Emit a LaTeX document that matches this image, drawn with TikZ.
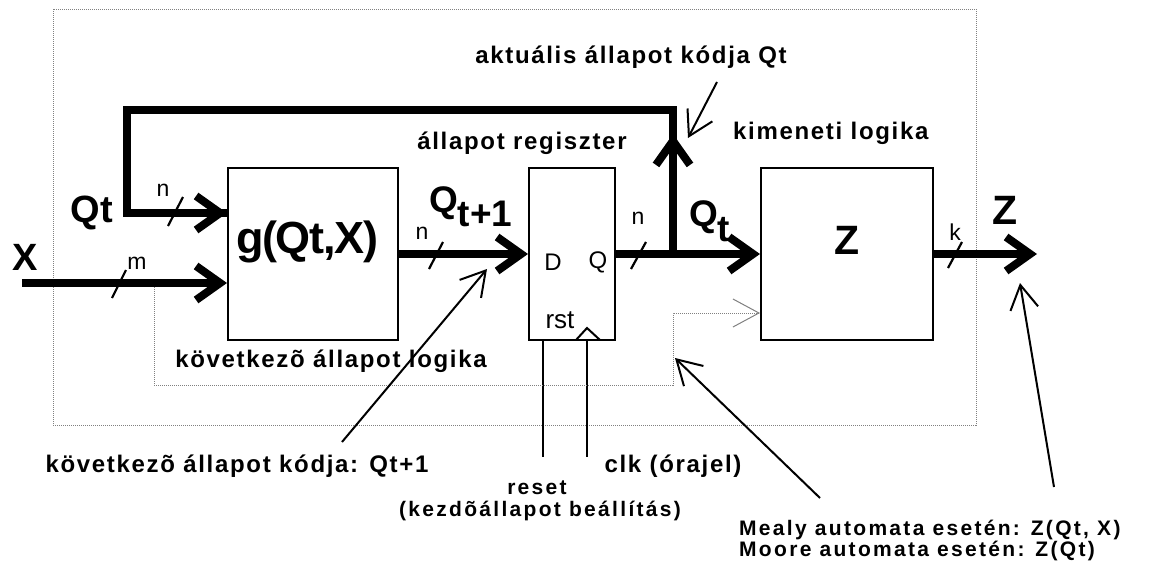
\documentclass[tikz,border=0pt]{standalone}
\usepackage{fontspec}
\setmainfont{Liberation Sans}
\newfontfamily\lblf{Liberation Sans}[LetterSpace=7]
\newfontfamily\lblg{Liberation Sans}[LetterSpace=11]
\newfontfamily\bgf{Liberation Sans}[LetterSpace=-3]
\usetikzlibrary{arrows.meta}
\begin{document}
\begin{tikzpicture}[x=1pt,y=-1pt]
\tikzset{
  bus/.style={line width=8pt},
  busarrow/.style={bus,-{Straight Barb[length=24pt,width=34pt]}},
  slash/.style={line width=2.2pt},
  thinarrow/.style={line width=2pt,-{Straight Barb[length=24pt,width=28pt]}},
  dotline/.style={gray,densely dotted,line width=1pt},
  box/.style={draw,line width=2pt,inner sep=0},
  lbl/.style={inner sep=0,font=\lblf\bfseries\fontsize{24}{26}\selectfont},
  lblsm/.style={inner sep=0,font=\lblg\bfseries\fontsize{21}{23}\selectfont},
  big/.style={inner sep=0,font=\bgf\bfseries\fontsize{40}{44}\selectfont},
  small/.style={inner sep=0,font=\fontsize{23}{26}\selectfont},
}
\useasboundingbox (0,0) rectangle (1152,562);
% frame
\draw[dotline] (53,9) rectangle (976,425);
% boxes
\node[box,minimum width=170pt,minimum height=172pt] (g) at (313,254) {};
\node[box,minimum width=86pt,minimum height=172pt] (reg) at (572,254) {};
\node[box,minimum width=172pt,minimum height=172pt] (zb) at (847,254) {};
\node[big,font=\bgf\bfseries\fontsize{45}{48}\selectfont] (gt) at (307,242) {g(Qt,X)};
\node[big,font=\bfseries\fontsize{41}{44}\selectfont] (zt) at (847,240) {Z};
% register internals
\node[small,font=\fontsize{24}{26}\selectfont] (dl) at (553,262) {D};
\node[small,font=\fontsize{24}{26}\selectfont] (ql) at (598,262) {Q};
\node[small,font=\fontsize{26}{28}\selectfont] (rl) at (560,320) {rst};
\draw[line width=2pt] (576,340) -- (587,328) -- (600,340);
\coordinate (rstend) at (543,457);
\coordinate (clkend) at (587,457);
\draw[line width=2pt] (543,340) -- (rstend);
\draw[line width=2pt] (587,340) -- (clkend);
% coordinates
\coordinate (xin) at (22,283);
\coordinate (br) at (673,254);
\coordinate (upt) at (673,134);
\coordinate (fbtop) at (673,110);
\coordinate (fbl) at (127,110);
\coordinate (qin) at (127,213);
\coordinate (zout) at (1037,254);
% dotted Mealy path
\coordinate (dst) at (154,283);
\draw[dotline,-{Straight Barb[length=26pt,width=28pt]}] (dst) -- (154,385) -- (673,385) -- (673,313) -- (zb.west |- 0,313);
% buses
\draw[busarrow] (xin) -- (g.west |- xin);
\draw[busarrow] (g.east) -- (reg.west);
\draw[busarrow] (reg.east) -- (zb.west);
\draw[busarrow] (zb.east) -- (zout);
\draw[busarrow] (br) -- (upt);
\draw[bus] (673,150) -- (fbtop) -- (fbl) -- (qin) -- (g.west |- qin);
\draw[busarrow] (fbl |- qin) -- (g.west |- qin);
% slashes
\draw[slash] (168,226) -- (183,197);
\draw[slash] (112,298) -- (126,270);
\draw[slash] (429,269) -- (443,242);
\draw[slash] (631,269) -- (646,242);
\draw[slash] (948,268) -- (962,242);
\node[small] (n1) at (163,190) {n};
\node[small] (m1) at (137,263) {m};
\node[small] (n2) at (422,233) {n};
\node[small] (n3) at (638,218) {n};
\node[small] (k1) at (955,232) {k};
% big labels
\node[big,font=\bfseries\fontsize{38}{40}\selectfont] (qtl) at (92,213) {Qt};
\node[big,font=\bfseries\fontsize{38}{40}\selectfont] (xl) at (25,257) {X};
\node[big,font=\bfseries\fontsize{41}{44}\selectfont] (zl) at (1005,210) {Z};
\node[big,font=\bfseries\fontsize{37}{40}\selectfont,anchor=base west] (q1l) at (429,212) {Q\raisebox{-14pt}{t+1}};
\node[big,font=\bfseries\fontsize{37}{40}\selectfont,anchor=base west] (qtl2) at (689,226) {Q\raisebox{-15pt}{t}};
% text labels
\node[lbl] (akt) at (631,57) {aktuális állapot kódja Qt};
\node[lbl] (regl) at (522,143) {állapot regiszter};
\node[lbl,anchor=west] (kim) at (733,133) {kimeneti logika};
\node[lbl] (kov) at (331,361) {következõ állapot logika};
\node[lbl] (kovk) at (237,466) {következõ állapot kódja: Qt+1};
\node[lbl] (clk) at (673,466) {clk (órajel)};
\node[lblsm] (rst) at (537,488) {reset};
\node[lblsm] (kezd) at (540,511) {(kezdõállapot beállítás)};
\node[lblsm,anchor=west] (mealy) at (739,530) {Mealy automata esetén: Z(Qt, X)};
\node[lblsm,anchor=west] (moore) at (739,551) {Moore automata esetén: Z(Qt)};
% annotation arrows
\coordinate (a1s) at (717,82);
\coordinate (a1e) at (688,138);
\coordinate (a2s) at (342,442);
\coordinate (a2e) at (487,269);
\coordinate (a3s) at (820,498);
\coordinate (a3e) at (675,358);
\coordinate (a4s) at (1054,487);
\coordinate (a4e) at (1020,283);
\draw[thinarrow] (a1s) -- (a1e);
\draw[thinarrow] (a2s) -- (a2e);
\draw[thinarrow] (a3s) -- (a3e);
\draw[thinarrow] (a4s) -- (a4e);
\end{tikzpicture}
\end{document}
